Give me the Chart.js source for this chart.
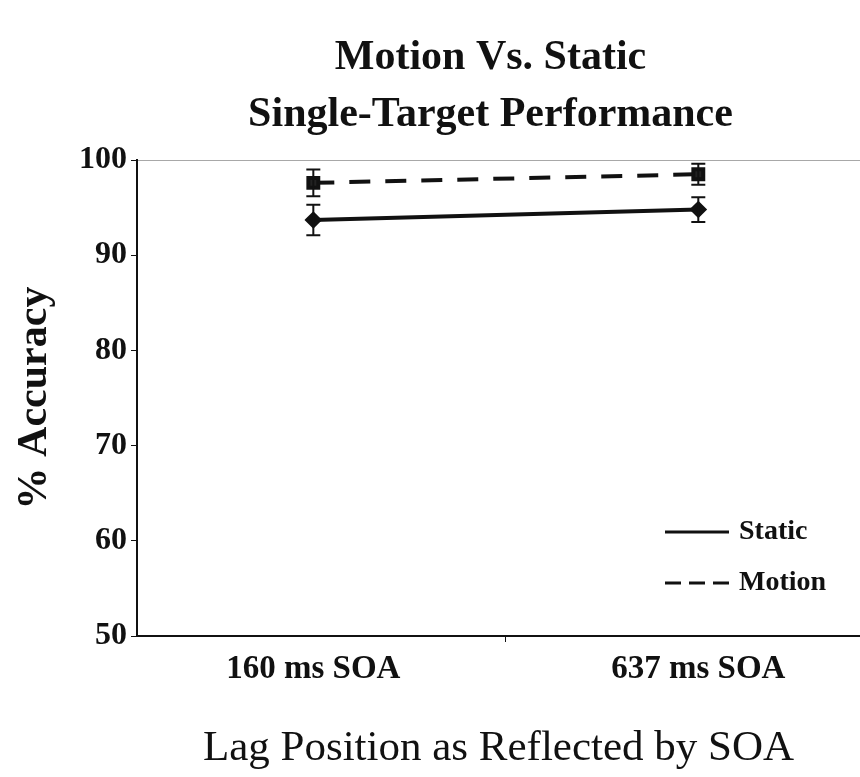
<!DOCTYPE html>
<html>
<head>
<meta charset="utf-8">
<script src="https://cdn.jsdelivr.net/npm/chart.js@4.4.1/dist/chart.umd.min.js"></script>
<style>
  html, body { margin: 0; padding: 0; background: #fff; }
  #wrap { width: 860px; height: 777px; }
</style>
</head>
<body>
<div id="wrap"><canvas id="chart_1" width="860" height="777"></canvas></div>
<script>
const ctx1 = document.getElementById("chart_1").getContext("2d");

// values
const titleLines = ["Motion Vs. Static", "Single-Target Performance"];
const soaLabels = ["160 ms SOA", "637 ms SOA"];
const staticAcc = [93.7, 94.8];
const staticErr = [1.6, 1.3];
const motionAcc = [97.6, 98.5];
const motionErr = [1.4, 1.1];
const yTicks = [50, 60, 70, 80, 90, 100];

const serif = '"Liberation Serif", "Times New Roman", serif';

function pts(vals) {
    return vals.map((v, i) => ({ x: i + 1, y: v }));
}

// two-line title centred over the plot area
const plotTitle = {
    id: "plotTitle",
    afterDraw(chart) {
        const c = chart.ctx;
        const a = chart.chartArea;
        const cx = (a.left + a.right) / 2 - 8;
        c.save();
        c.font = "bold 42px " + serif;
        c.fillStyle = "#111";
        c.textAlign = "center";
        c.textBaseline = "middle";
        titleLines.forEach((t, i) => c.fillText(t, cx, 58 + i * 57));
        c.restore();
    }
};

// vertical error bars with caps
const errorBars = {
    id: "errorBars",
    afterDatasetsDraw(chart) {
        const c = chart.ctx;
        const ys = chart.scales.y, xs = chart.scales.x;
        c.save();
        c.strokeStyle = "#111";
        c.lineWidth = 2;
        chart.data.datasets.forEach((ds) => {
            ds.data.forEach((p, i) => {
                const e = ds.errors[i];
                const x = xs.getPixelForValue(p.x);
                const y1 = ys.getPixelForValue(p.y + e);
                const y2 = ys.getPixelForValue(p.y - e);
                c.beginPath();
                c.moveTo(x, y1); c.lineTo(x, y2);
                c.moveTo(x - 7, y1); c.lineTo(x + 7, y1);
                c.moveTo(x - 7, y2); c.lineTo(x + 7, y2);
                c.stroke();
            });
        });
        c.restore();
    }
};

// small legend inside the plot, lower right
const innerLegend = {
    id: "innerLegend",
    afterDraw(chart) {
        const c = chart.ctx;
        const a = chart.chartArea;
        const x0 = a.right - 195;
        const rows = [a.bottom - 104, a.bottom - 53];
        c.save();
        c.font = "bold 28px " + serif;
        c.fillStyle = "#111";
        c.textBaseline = "middle";
        chart.data.datasets.forEach((ds, i) => {
            const y = rows[i];
            c.beginPath();
            c.strokeStyle = "#111";
            c.lineWidth = 3;
            c.setLineDash(ds.legendDash);
            c.moveTo(x0, y);
            c.lineTo(x0 + 64, y);
            c.stroke();
            c.setLineDash([]);
            c.fillText(ds.label, x0 + 74, y);
        });
        c.restore();
    }
};

new Chart(ctx1, {
    type: "line",
    data: {
        datasets: [
            {
                label: "Static",
                data: pts(staticAcc),
                errors: staticErr,
                borderColor: "#111",
                backgroundColor: "#111",
                borderWidth: 4,
                pointStyle: "rectRot",
                pointRadius: 6,
                legendDash: [],
            },
            {
                label: "Motion",
                data: pts(motionAcc),
                errors: motionErr,
                borderColor: "#111",
                backgroundColor: "#222",
                borderWidth: 4,
                borderDash: [21, 15],
                pointStyle: "rect",
                pointRadius: 7,
                legendDash: [16, 8],
            },
        ],
    },
    options: {
        responsive: false,
        animation: false,
        layout: { autoPadding: false, padding: { left: 10, right: 0, top: 160, bottom: 0 } },
        plugins: {
            legend: { display: false },
            tooltip: { enabled: false },
            title: { display: false },
        },
        scales: {
            x: {
                type: "linear",
                min: 0.542,
                max: 2.42,
                afterBuildTicks(scale) {
                    scale.ticks = [{ value: 1 }, { value: 1.5 }, { value: 2 }];
                },
                afterFit(scale) {
                    scale.height = 141;
                    scale.paddingLeft = 0;
                    scale.paddingRight = 0;
                },
                ticks: {
                    color: "#111",
                    padding: 8,
                    autoSkip: false,
                    maxRotation: 0,
                    font: { family: serif, size: 33, weight: "bold" },
                    callback: (v) => (Number.isInteger(v) ? soaLabels[v - 1] : ""),
                },
                grid: {
                    drawOnChartArea: false,
                    tickLength: 6,
                    tickColor: (c) => (c.tick && c.tick.value === 1.5 ? "#111" : "rgba(0,0,0,0)"),
                },
                border: { color: "#111", width: 2 },
                title: {
                    display: true,
                    text: "Lag Position as Reflected by SOA",
                    color: "#111",
                    font: { family: serif, size: 43, weight: "normal" },
                    padding: { top: 0, bottom: 2 },
                },
            },
            y: {
                min: 50,
                max: 100,
                afterBuildTicks(scale) {
                    scale.ticks = yTicks.map((v) => ({ value: v }));
                },
                afterFit(scale) {
                    scale.width = 127;
                    scale.paddingTop = 0;
                },
                ticks: {
                    color: "#111",
                    padding: 4,
                    font: { family: serif, size: 32, weight: "bold" },
                },
                grid: {
                    tickLength: 6,
                    tickColor: "#111",
                    color: (c) => (c.tick && c.tick.value === 100 ? "#a8a8a8" : "rgba(0,0,0,0)"),
                },
                border: { color: "#111", width: 2 },
                title: {
                    display: true,
                    text: "% Accuracy",
                    color: "#111",
                    font: { family: serif, size: 42, weight: "bold" },
                    padding: { top: 0, bottom: 0 },
                },
            },
        },
    },
    plugins: [plotTitle, errorBars, innerLegend],
});
</script>
</body>
</html>
